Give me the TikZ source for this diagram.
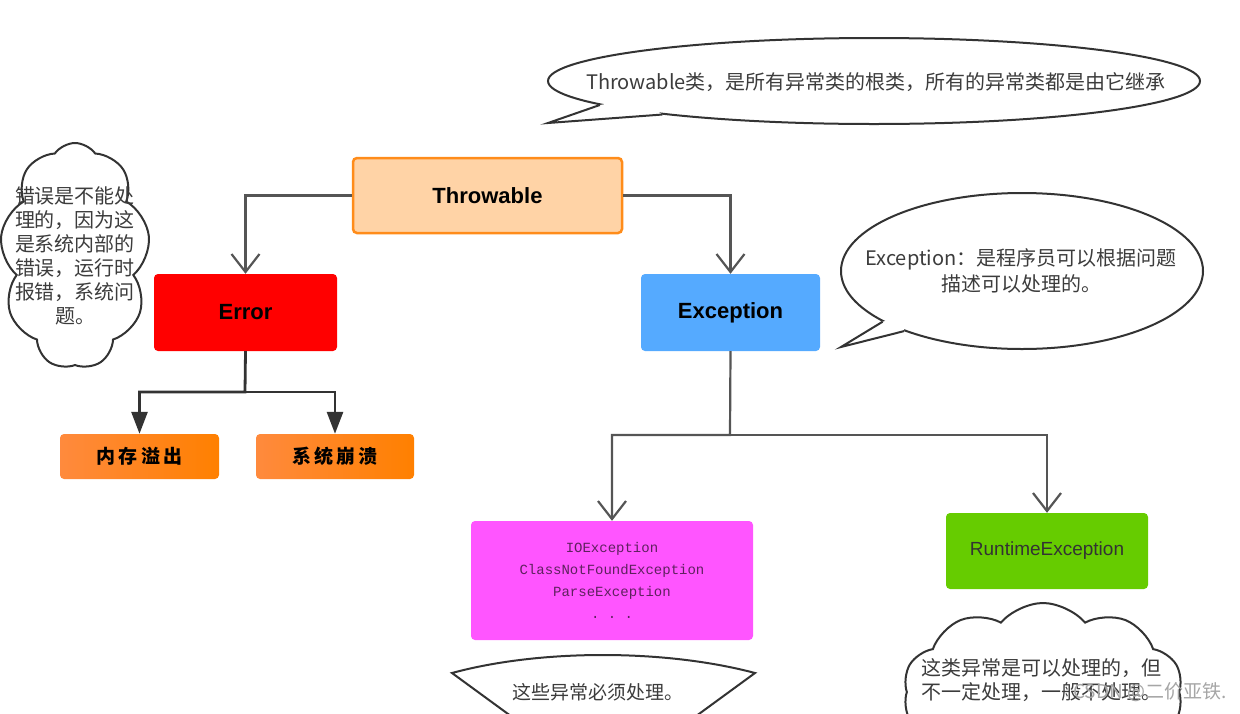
\documentclass[tikz,border=0pt]{standalone}
\usepackage{fontspec}
\setmainfont{Liberation Sans}
\newfontfamily\cjk{Noto Sans CJK SC}
\newfontfamily\mono{Liberation Mono}
\usetikzlibrary{arrows.meta,shapes.symbols,shapes.geometric}
\definecolor{peach}{HTML}{FFD3A6}
\definecolor{peachline}{HTML}{FF8C1A}
\definecolor{skyblue}{HTML}{55AAFF}
\definecolor{oL}{HTML}{FF8A3D}
\definecolor{oR}{HTML}{FF8000}
\definecolor{pink}{HTML}{FF55FF}
\definecolor{lime}{HTML}{66CC00}
\definecolor{lg}{HTML}{555555}
\definecolor{dg}{HTML}{333333}
\definecolor{tg}{HTML}{3C3C3C}
\definecolor{purp}{HTML}{5E215E}
\begin{document}
\begin{tikzpicture}[x=1pt,y=-1pt,
  box/.style={rounded corners=4pt,minimum height=77pt,font=\fontsize{22}{26}\selectfont\bfseries},
  sub/.style={rounded corners=4pt,minimum width=159pt,minimum height=45pt,left color=oL,right color=oR,font=\cjk\fontsize{19}{22}\selectfont\bfseries},
  link/.style={draw=lg,line width=2.2pt,-{Straight Barb[length=18pt,width=28pt,line width=2.2pt]}},
  fat/.style={draw=dg,line width=2.8pt,-{Triangle[length=22pt,width=16pt]}},
  say/.style={draw=dg,line width=2pt,fill=white},
  note/.style={text=tg,font=\cjk\fontsize{20}{24}\selectfont,align=center}]
\useasboundingbox (0,0) rectangle (1240,713);
\clip (0,0) rectangle (1240,713);
\node[box,fill=peach,draw=peachline,line width=2.5pt,minimum width=269pt,minimum height=75pt] (thr) at (487.5,195.5) {Throwable};
\node[box,fill=red,minimum width=183pt] (err) at (245.5,312.5) {Error};
\node[box,fill=skyblue,minimum width=179pt] (exc) at (730.5,312.5) {Exception};
\node[sub] (oom) at (139.5,456.5) {内\,存\,溢\,出};
\node[sub,minimum width=158pt] (crash) at (335,456.5) {系\,统\,崩\,溃};
\node[rounded corners=4pt,fill=pink,minimum width=282pt,minimum height=119pt,text=purp,align=center,font=\mono\fontsize{14}{22}\selectfont] (chk) at (612,580.5) {IOException\\ClassNotFoundException\\ParseException\\.\ .\ .};
\node[rounded corners=4pt,fill=lime,minimum width=202pt,minimum height=76pt,text=dg,font=\fontsize{19}{22}\selectfont] (rt) at (1047,551) {RuntimeException};
\draw[link] (thr.west) -| (err.north);
\draw[link] (thr.east) -| (exc.north);
\coordinate (ej) at (245,392);
\draw[fat] (err.south) -- (ej) -| (oom.north);
\draw[fat] (ej) -| (crash.north);
\coordinate (xj) at (730,435);
\draw[link] (exc.south) -- (xj) -| (chk.north);
\draw[link] (xj) -| (rt.north);
\node[ellipse,say,minimum width=652pt,minimum height=86pt] (topc) at (874,81) {};
\coordinate (toptip) at (548,123);
\fill[white] (topc.185) -- (toptip) -- (topc.189) -- (640,98) -- cycle;
\draw[say,fill=none] (topc.185) -- (toptip) -- (topc.189);
\node[note] at (876,82) {Throwable类，是所有异常类的根类，所有的异常类都是由它继承};
\node[ellipse,say,minimum width=362pt,minimum height=156pt] (excc) at (1022,271) {};
\coordinate (exctip) at (841,347);
\fill[white] (excc.200) -- (exctip) -- (excc.207) -- (905,315) -- cycle;
\draw[say,fill=none] (excc.200) -- (exctip) -- (excc.207);
\node[note,font=\cjk\fontsize{20}{26}\selectfont] at (1021,271) {Exception：是程序员可以根据问题\\描述可以处理的。};
\node[cloud,say,cloud puffs=9,cloud puff arc=110,cloud ignores aspect,minimum width=150pt,minimum height=226pt] (errc) at (75,256) {};
\node[note] at (75,256) {错误是不能处\\理的，因为这\\是系统内部的\\错误，运行时\\报错，系统问\\题。};
\draw[say] (452,673) .. controls (540,649) and (665,649) .. (755,673) -- (677,730) -- (530,730) -- cycle;
\node[note,font=\cjk\fontsize{19}{22}\selectfont] (must) at (598,692) {这些异常必须处理。};
\node[cloud,say,cloud puffs=10,cloud puff arc=100,cloud ignores aspect,minimum width=280pt,minimum height=178pt] (rtc) at (1043,692) {};
\node[note] at (1041,680) {这类异常是可以处理的，但\\不一定处理，一般不处理。};
\node[text=gray!70,font=\cjk\fontsize{19}{22}\selectfont,anchor=east] (mark) at (1230,692) {CSDN @二价亚铁.};
\end{tikzpicture}
\end{document}
